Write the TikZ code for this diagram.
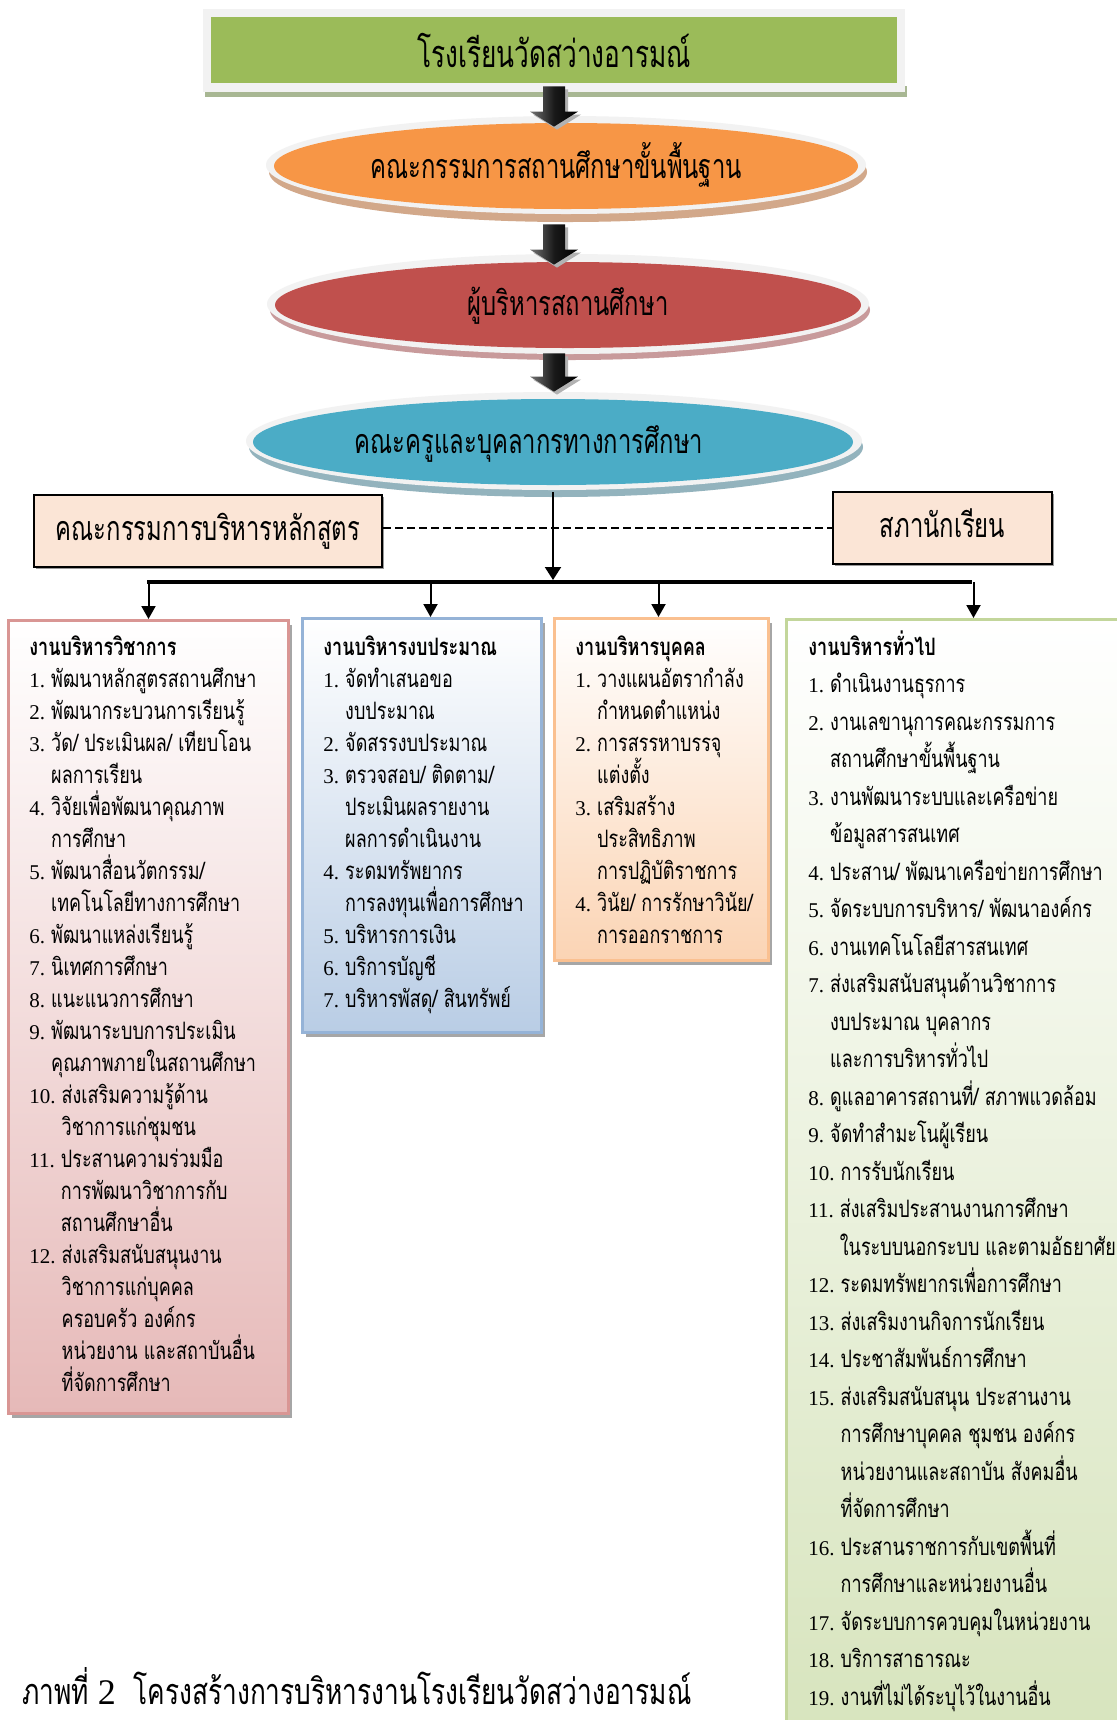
\documentclass[tikz,border=0pt]{standalone}
\usepackage{fontspec}
\usetikzlibrary{shapes.geometric,arrows.meta,calc,shadows}
\newfontfamily\titlefont[Script=Thai,FakeStretch=0.70]{Loma}
\newfontfamily\greenfont[Script=Thai,FakeStretch=0.69]{Loma}
\newfontfamily\capfont[Script=Thai,FakeStretch=0.73]{Loma}
\newfontfamily\listfont[Script=Thai,FakeStretch=0.75]{Loma}
\newfontfamily\numfont{Liberation Serif}
\definecolor{cgreen}{HTML}{9BBB59}
\definecolor{cgreensh}{HTML}{A8B793}
\definecolor{cframe}{HTML}{F2F2F2}
\definecolor{corange}{HTML}{F79646}
\definecolor{corangesh}{HTML}{D2A88A}
\definecolor{cred}{HTML}{C0504D}
\definecolor{credsh}{HTML}{C89A9B}
\definecolor{cblue}{HTML}{4BACC6}
\definecolor{cbluesh}{HTML}{93B3BD}
\definecolor{cpeach}{HTML}{FBE5D6}
\definecolor{bAline}{HTML}{D99694}\definecolor{bAfill}{HTML}{E6B9B8}
\definecolor{bBline}{HTML}{95B3D7}\definecolor{bBfill}{HTML}{B9CDE5}
\definecolor{bCline}{HTML}{FAC090}\definecolor{bCfill}{HTML}{FBD4B4}
\definecolor{bDline}{HTML}{C3D69B}\definecolor{bDfill}{HTML}{D7E4BD}
\newcommand{\itm}[2]{\hbox{{\numfont\fontsize{10.5}{16}\selectfont #1}\ #2}}
\newcommand{\cnt}[2]{\hbox{\phantom{{\numfont\fontsize{10.5}{16}\selectfont #1}\ }#2}}
\newcommand{\hd}[1]{\hbox{\bfseries #1}}
\newcommand{\listblock}[2]{\vtop{\baselineskip=#1\lineskiplimit=-\maxdimen\lineskip=0pt #2}}
\newcommand{\blockarrow}[2]{%
  \path[fill=gray!60] let \p1=(#1), \p2=(#2) in
    (\x1-4pt,\y1-1.5pt) -- (\x1+7pt,\y1-1.5pt) -- (\x1+7pt,\y2+6pt) -- (\x1+13.5pt,\y2+6pt)
    -- (\x1+1.5pt,\y2-1.5pt) -- (\x1-10.5pt,\y2+6pt) -- (\x1-4pt,\y2+6pt) -- cycle;
  \path[left color=black!55, right color=black, middle color=black!90] let \p1=(#1), \p2=(#2) in
    (\x1-5.5pt,\y1) -- (\x1+5.5pt,\y1) -- (\x1+5.5pt,\y2+7.5pt) -- (\x1+12pt,\y2+7.5pt)
    -- (\x1,\y2) -- (\x1-12pt,\y2+7.5pt) -- (\x1-5.5pt,\y2+7.5pt) -- cycle;
}
\begin{document}
\begin{tikzpicture}[x=0.5pt,y=-0.5pt,
  titletext/.style={font=\titlefont\fontsize{17}{17}\selectfont, inner sep=0pt, text depth=0pt},
  ovalnode/.style={ellipse, inner sep=0pt, titletext},
  peachbox/.style={rectangle, draw=black, line width=1pt, fill=cpeach, inner sep=0pt, titletext,
     drop shadow={shadow xshift=1pt, shadow yshift=-1pt, fill=black, opacity=0.4}},
  listbox/.style={rectangle, anchor=north west, inner sep=0pt, line width=1.5pt,
     drop shadow={shadow xshift=1.5pt, shadow yshift=-2pt, fill=black, opacity=0.35}},
  listtext/.style={anchor=base west, inner sep=0pt, font=\listfont\fontsize{12}{16}\selectfont},
  thinarrow/.style={line width=1pt, -{Triangle[length=6.5pt,width=7pt]}},
]
\path[use as bounding box, fill=white] (0,0) rectangle (1116,1720);

% top green box
\fill[cgreensh] (205,86) rectangle (907,97);
\fill[cframe] (203,9) rectangle (905,92);
\node[rectangle, fill=cgreen, minimum width=343pt, minimum height=33pt, titletext,
      font=\greenfont\fontsize{19}{19}\selectfont, text height=17pt] (g) at (554,50) {โรงเรียนวัดสว่างอารมณ์};

% orange ellipse
\fill[corangesh] (568,172) ellipse [x radius=299, y radius=50];
\fill[cframe] (566,165) ellipse [x radius=300, y radius=49];
\node[ovalnode, fill=corange, minimum width=292pt, minimum height=43pt, text height=12pt] (o) at (566,166) {คณะกรรมการสถานศึกษาขั้นพื้นฐาน\hspace*{10pt}};

% red ellipse
\fill[credsh] (570,310) ellipse [x radius=300, y radius=50];
\fill[cframe] (568,304) ellipse [x radius=301, y radius=50];
\node[ovalnode, fill=cred, minimum width=293pt, minimum height=43pt, text height=10pt] (r) at (568,305) {ผู้บริหารสถานศึกษา};

% blue ellipse
\fill[cbluesh] (556,447) ellipse [x radius=307, y radius=50];
\fill[cframe] (554,441) ellipse [x radius=308, y radius=49];
\node[ovalnode, fill=cblue, minimum width=300pt, minimum height=43pt, text height=11pt] (b) at (553,442) {คณะครูและบุคลากรทางการศึกษา\hspace*{24pt}};

% block arrows
\blockarrow{$(g.south)+(0,3)$}{$(g.south |- o.north)+(0,4)$}
\blockarrow{$(g.south |- o.south)+(0,15)$}{$(g.south |- r.north)+(0,3)$}
\blockarrow{$(g.south |- r.south)+(0,5)$}{$(g.south |- b.north)+(0,-7)$}

% side boxes
\node[peachbox, minimum width=174pt, minimum height=36pt, text height=9pt] (lb) at (208,531) {คณะกรรมการบริหารหลักสูตร};
\node[peachbox, minimum width=109.5pt, minimum height=36pt, text height=9pt] (rb) at (942.5,528) {สภานักเรียน};
\draw[line width=0.8pt, dash pattern=on 4pt off 2pt] (lb.east |- rb.west) -- (rb.west);

% trunk and bar
\coordinate (barL) at (147,582);
\coordinate (barR) at (972,582);
\draw[line width=1pt, -{Triangle[length=6.5pt,width=8pt]}, shorten <=3.5pt, shorten >=1pt] (b.south) -- (b.south |- barL);
\draw[line width=2pt] (barL) -- (barR);

% list boxes
\node[listbox, draw=bAline, top color=white, bottom color=bAfill, minimum width=140pt, minimum height=396.5pt] (b1) at (7,619) {};
\node[listbox, draw=bBline, top color=white, bottom color=bBfill, minimum width=119.5pt, minimum height=207pt] (b2) at (301,617) {};
\node[listbox, draw=bCline, top color=white, bottom color=bCfill, minimum width=107pt, minimum height=171pt] (b3) at (553,617) {};
\node[listbox, draw=bDline, top color=white, bottom color=bDfill, minimum width=187pt, minimum height=561pt] (b4) at (785,618) {};

\draw[thinarrow] let \p1=(b1.north), \p2=(barL) in (\x1,\y2) -- (\x1,\y1);
\draw[thinarrow] let \p1=($(b2.north)+(8.5,0)$), \p2=(barL) in (\x1,\y2) -- (\x1,\y1);
\draw[thinarrow] let \p1=($(b3.north)+(-3,0)$), \p2=(barL) in (\x1,\y2) -- (\x1,\y1);
\draw[thinarrow] let \p1=(b4.north), \p2=(barL) in (\x1,\y2) -- (\x1,\y1);

\node[listtext] (t1) at (29,655) {\listblock{16pt}{%
\hd{งานบริหารวิชาการ}
\itm{1.}{พัฒนาหลักสูตรสถานศึกษา}
\itm{2.}{พัฒนากระบวนการเรียนรู้}
\itm{3.}{วัด/ ประเมินผล/ เทียบโอน}
\cnt{3.}{ผลการเรียน}
\itm{4.}{วิจัยเพื่อพัฒนาคุณภาพ}
\cnt{4.}{การศึกษา}
\itm{5.}{พัฒนาสื่อนวัตกรรม/}
\cnt{5.}{เทคโนโลยีทางการศึกษา}
\itm{6.}{พัฒนาแหล่งเรียนรู้}
\itm{7.}{นิเทศการศึกษา}
\itm{8.}{แนะแนวการศึกษา}
\itm{9.}{พัฒนาระบบการประเมิน}
\cnt{9.}{คุณภาพภายในสถานศึกษา}
\itm{10.}{ส่งเสริมความรู้ด้าน}
\cnt{10.}{วิชาการแก่ชุมชน}
\itm{11.}{ประสานความร่วมมือ}
\cnt{11.}{การพัฒนาวิชาการกับ}
\cnt{11.}{สถานศึกษาอื่น}
\itm{12.}{ส่งเสริมสนับสนุนงาน}
\cnt{12.}{วิชาการแก่บุคคล}
\cnt{12.}{ครอบครัว องค์กร}
\cnt{12.}{หน่วยงาน และสถาบันอื่น}
\cnt{12.}{ที่จัดการศึกษา}}};

\node[listtext] (t2) at (323,655) {\listblock{16pt}{%
\hd{งานบริหารงบประมาณ}
\itm{1.}{จัดทำเสนอขอ}
\cnt{1.}{งบประมาณ}
\itm{2.}{จัดสรรงบประมาณ}
\itm{3.}{ตรวจสอบ/ ติดตาม/}
\cnt{3.}{ประเมินผลรายงาน}
\cnt{3.}{ผลการดำเนินงาน}
\itm{4.}{ระดมทรัพยากร}
\cnt{4.}{การลงทุนเพื่อการศึกษา}
\itm{5.}{บริหารการเงิน}
\itm{6.}{บริการบัญชี}
\itm{7.}{บริหารพัสดุ/ สินทรัพย์}}};

\node[listtext] (t3) at (575,655) {\listblock{16pt}{%
\hd{งานบริหารบุคคล}
\itm{1.}{วางแผนอัตรากำลัง}
\cnt{1.}{กำหนดตำแหน่ง}
\itm{2.}{การสรรหาบรรจุ}
\cnt{2.}{แต่งตั้ง}
\itm{3.}{เสริมสร้าง}
\cnt{3.}{ประสิทธิภาพ}
\cnt{3.}{การปฏิบัติราชการ}
\itm{4.}{วินัย/ การรักษาวินัย/}
\cnt{4.}{การออกราชการ}}};

\node[listtext] (t4) at (808,655) {\listblock{18.75pt}{%
\hd{งานบริหารทั่วไป}
\itm{1.}{ดำเนินงานธุรการ}
\itm{2.}{งานเลขานุการคณะกรรมการ}
\cnt{2.}{สถานศึกษาขั้นพื้นฐาน}
\itm{3.}{งานพัฒนาระบบและเครือข่าย}
\cnt{3.}{ข้อมูลสารสนเทศ}
\itm{4.}{ประสาน/ พัฒนาเครือข่ายการศึกษา}
\itm{5.}{จัดระบบการบริหาร/ พัฒนาองค์กร}
\itm{6.}{งานเทคโนโลยีสารสนเทศ}
\itm{7.}{ส่งเสริมสนับสนุนด้านวิชาการ}
\cnt{7.}{งบประมาณ บุคลากร}
\cnt{7.}{และการบริหารทั่วไป}
\itm{8.}{ดูแลอาคารสถานที่/ สภาพแวดล้อม}
\itm{9.}{จัดทำสำมะโนผู้เรียน}
\itm{10.}{การรับนักเรียน}
\itm{11.}{ส่งเสริมประสานงานการศึกษา}
\cnt{11.}{ในระบบนอกระบบ และตามอัธยาศัย}
\itm{12.}{ระดมทรัพยากรเพื่อการศึกษา}
\itm{13.}{ส่งเสริมงานกิจการนักเรียน}
\itm{14.}{ประชาสัมพันธ์การศึกษา}
\itm{15.}{ส่งเสริมสนับสนุน ประสานงาน}
\cnt{15.}{การศึกษาบุคคล ชุมชน องค์กร}
\cnt{15.}{หน่วยงานและสถาบัน สังคมอื่น}
\cnt{15.}{ที่จัดการศึกษา}
\itm{16.}{ประสานราชการกับเขตพื้นที่}
\cnt{16.}{การศึกษาและหน่วยงานอื่น}
\itm{17.}{จัดระบบการควบคุมในหน่วยงาน}
\itm{18.}{บริการสาธารณะ}
\itm{19.}{งานที่ไม่ได้ระบุไว้ในงานอื่น}}};

\node[anchor=base west, inner sep=0pt, font=\capfont\fontsize{18}{18}\selectfont] (cap) at (22,1704)
  {ภาพที่ {\numfont 2}~~โครงสร้างการบริหารงานโรงเรียนวัดสว่างอารมณ์};
\end{tikzpicture}
\end{document}
